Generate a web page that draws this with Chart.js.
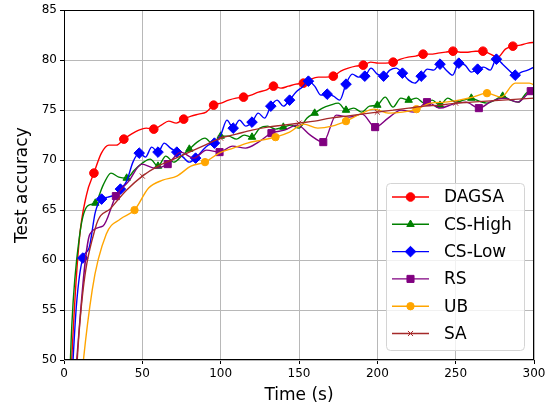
<!DOCTYPE html>
<html><head><meta charset="utf-8">
<script src="https://cdn.jsdelivr.net/npm/chart.js@4.4.0/dist/chart.umd.min.js"></script>
<style>html,body{margin:0;padding:0;background:#fff;overflow:hidden}</style>
</head><body>
<canvas id="c" width="557" height="407"></canvas>
<script>
// ---- data ----
const seriesNames = ['DAGSA', 'CS-High', 'CS-Low', 'RS', 'UB', 'SA'];
// sampling interval (s) of each series
const timeSteps = [4.775, 5, 4, 8.275, 9, 10];

const dagsaAcc = [30, 49.5, 61.7, 66.5, 68.7, 70.7, 71.5, 71.5, 72.1, 72.6, 73.0, 73.2, 73.1, 73.5, 73.9, 73.7,
  74.1, 74.4, 74.6, 74.8, 75.5, 75.7, 76.0, 76.2, 76.3, 76.5, 76.8, 77.0, 77.4, 77.2, 77.4, 77.6,
  77.7, 78.1, 78.3, 78.3, 78.4, 78.9, 79.2, 79.4, 79.5, 79.8, 79.7, 79.7, 79.8, 80.1, 80.3, 80.4,
  80.6, 80.6, 80.7, 80.8, 80.9, 80.8, 80.8, 80.9, 80.9, 80.6, 80.3, 81.1, 81.4, 81.5, 81.7, 81.8];

const csHighAcc = [30, 53.5, 62.5, 65.4, 65.7, 67.5, 68.7, 68.3, 68.2, 69.0, 69.7, 70.1, 69.4, 70.4, 69.8, 70.4,
  71.1, 71.8, 72.2, 71.6, 72.4, 72.4, 72.1, 72.5, 72.3, 73.2, 73.4, 73.1, 73.3, 73.5, 73.2, 74.2,
  74.7, 75.2, 75.5, 75.7, 75.0, 75.2, 74.8, 75.4, 75.5, 76.3, 75.3, 76.2, 76.0, 76.2, 75.7, 76.0,
  75.5, 76.2, 75.8, 76.0, 76.2, 75.9, 75.7, 76.0, 76.4, 76.0, 75.8, 76.7, 77.2];

const csLowAcc = [35, 45, 55.6, 60.2, 61.2, 64.8, 66.1, 66.3, 66.5, 67.1, 67.9, 69.8, 70.7, 70.3, 71.3, 70.8,
  71.7, 71.2, 70.8, 70.3, 69.8, 70.2, 70.9, 71.5, 71.7, 72.5, 74.0, 73.2, 74.0, 73.4, 73.8, 74.7,
  74.2, 75.4, 76.0, 75.4, 76.0, 76.8, 77.3, 77.9, 77.4, 76.5, 76.6, 76.4, 76.0, 77.6, 78.6, 78.3,
  78.4, 79.2, 78.6, 78.4, 79.0, 79.2, 78.7, 78.0, 77.7, 78.4, 79.1, 79.0, 79.6, 79.0, 78.5, 79.7,
  79.5, 78.8, 79.1, 79.3, 79.0, 80.1, 79.6, 79.0, 78.5, 78.8, 79.0, 79.3];

const rsAcc = [30, 50.3, 62.6, 63.4, 66.4, 67.9, 69.6, 69.2, 69.6, 70.8, 70.2, 71.0, 70.8, 71.4, 71.2, 71.8,
  72.7, 73.0, 73.5, 72.5, 71.8, 74.5, 74.3, 74.6, 73.3, 74.2, 75.0, 74.8, 75.8, 75.2, 75.6, 75.8,
  75.2, 75.9, 76.2, 75.8, 76.9, 77.3];

const ubAcc = [20, 44, 57.0, 62.6, 64.1, 65.0, 67.2, 68.0, 68.4, 69.4, 69.8, 70.7, 71.2, 71.7, 72.0, 72.3,
  72.8, 73.6, 73.2, 73.4, 73.9, 74.6, 75.1, 74.7, 74.8, 75.1, 75.7, 75.8, 76.0, 76.3, 76.7, 76.3,
  77.7, 77.7, 76.8];

const saAcc = [25, 53.5, 63.2, 65.2, 67.0, 68.4, 69.4, 70.1, 70.8, 71.5, 72.2, 72.6, 73.0, 73.3, 73.5, 73.7,
  73.9, 74.2, 74.4, 74.6, 74.8, 75.0, 75.2, 75.4, 75.5, 75.7, 75.8, 75.9, 76.0, 76.1, 76.2];

const accSeries = [dagsaAcc, csHighAcc, csLowAcc, rsAcc, ubAcc, saAcc];
const xTickValues = [0, 50, 100, 150, 200, 250, 300];
const yTickValues = [50, 55, 60, 65, 70, 75, 80, 85];

// ---- styles ----
const colors = ['#ff0000', '#008000', '#0000ff', '#800080', '#ffa500', '#a52a2a'];
const pointStyles = ['circle', 'triangle', 'rectRot', 'rect', 'circle', 'crossRot'];
const pointSizes = [4.3, 4.3, 5.3, 5.0, 3.7, 3.6];
const markEvery = [4, 4, 3, 4, 5, 5];
const FONT = '"DejaVu Sans", Verdana, sans-serif';

const datasets = accSeries.map((vals, s) => ({
  label: seriesNames[s],
  data: vals.map((v, i) => ({ x: +(i * timeSteps[s]).toFixed(3), y: v })),
  borderColor: colors[s],
  backgroundColor: colors[s],
  pointBackgroundColor: colors[s],
  pointBorderColor: colors[s],
  pointBorderWidth: 1,
  pointStyle: pointStyles[s],
  pointRadius: (ctx) => (ctx.dataIndex % markEvery[s] === 0 && ctx.dataIndex !== vals.length - 1) ? pointSizes[s] : 0,
  pointHoverRadius: 0,
  borderWidth: 1.4,
  fill: false,
  cubicInterpolationMode: 'monotone',
  capBezierPoints: false,
  order: seriesNames.length - s
}));

const framePlugin = {
  id: 'frame',
  afterDatasetsDraw(chart) {
    const { ctx, chartArea: a } = chart;
    ctx.save();
    ctx.strokeStyle = '#000';
    ctx.lineWidth = 1;
    ctx.strokeRect(Math.round(a.left) + 0.5, Math.round(a.top) + 0.5,
      Math.round(a.right - a.left) - 1, Math.round(a.bottom - a.top) - 1);
    ctx.restore();
  }
};

const legendPlugin = {
  id: 'boxLegend',
  afterDraw(chart) {
    const { ctx, chartArea: a } = chart;
    const w = 138, h = 167;
    const x0 = a.right - 10 - w, y0 = a.bottom - 10 - h;
    ctx.save();
    ctx.beginPath();
    ctx.roundRect(x0 + 0.5, y0 + 0.5, w, h, 4);
    ctx.fillStyle = 'rgba(255,255,255,0.8)';
    ctx.fill();
    ctx.strokeStyle = '#d4d4d4';
    ctx.lineWidth = 1;
    ctx.stroke();
    chart.data.datasets.forEach((ds, i) => {
      const y = y0 + 14 + i * 27.3;
      ctx.strokeStyle = colors[i];
      ctx.lineWidth = 1.4;
      ctx.beginPath();
      ctx.moveTo(x0 + 6, y);
      ctx.lineTo(x0 + 43, y);
      ctx.stroke();
      ctx.fillStyle = colors[i];
      ctx.strokeStyle = colors[i];
      ctx.lineWidth = 1;
      Chart.helpers.drawPoint(ctx, { pointStyle: pointStyles[i], radius: pointSizes[i], rotation: 0, borderWidth: 1 }, x0 + 24.5, y);
      ctx.fillStyle = '#000';
      ctx.font = '17px ' + FONT;
      ctx.textBaseline = 'middle';
      ctx.textAlign = 'left';
      ctx.fillText(ds.label, x0 + 58, y + 1);
    });
    ctx.restore();
  }
};

new Chart(document.getElementById('c'), {
  type: 'line',
  data: { datasets },
  plugins: [framePlugin, legendPlugin],
  options: {
    responsive: false,
    animation: false,
    devicePixelRatio: 1,
    layout: { padding: { left: 0, right: 23, top: 10, bottom: 0 } },
    plugins: { legend: { display: false }, tooltip: { enabled: false } },
    scales: {
      x: {
        type: 'linear', min: 0, max: 300,
        afterBuildTicks: (sc) => { sc.ticks = xTickValues.map(v => ({ value: v })); },
        afterFit: (sc) => { sc.height = 47; },
        grid: { color: '#b8b8b8', lineWidth: 1, tickLength: 4, tickColor: '#000', drawTicks: true },
        border: { display: false },
        ticks: { color: '#000', font: { family: FONT, size: 12 }, padding: 3, maxRotation: 0 },
        title: { display: true, text: 'Time (s)', color: '#000', font: { family: FONT, size: 17 }, padding: { top: 0, bottom: 1 } }
      },
      y: {
        type: 'linear', min: 50, max: 85,
        afterBuildTicks: (sc) => { sc.ticks = yTickValues.map(v => ({ value: v })); },
        afterFit: (sc) => { sc.width = 64; },
        grid: { color: '#b8b8b8', lineWidth: 1, tickLength: 4, tickColor: '#000', drawTicks: true },
        border: { display: false },
        ticks: { color: '#000', font: { family: FONT, size: 12 }, padding: 3 },
        title: { display: true, text: 'Test accuracy', color: '#000', font: { family: FONT, size: 17 }, padding: { top: 12, bottom: 0 } }
      }
    }
  }
});
</script>
</body></html>
